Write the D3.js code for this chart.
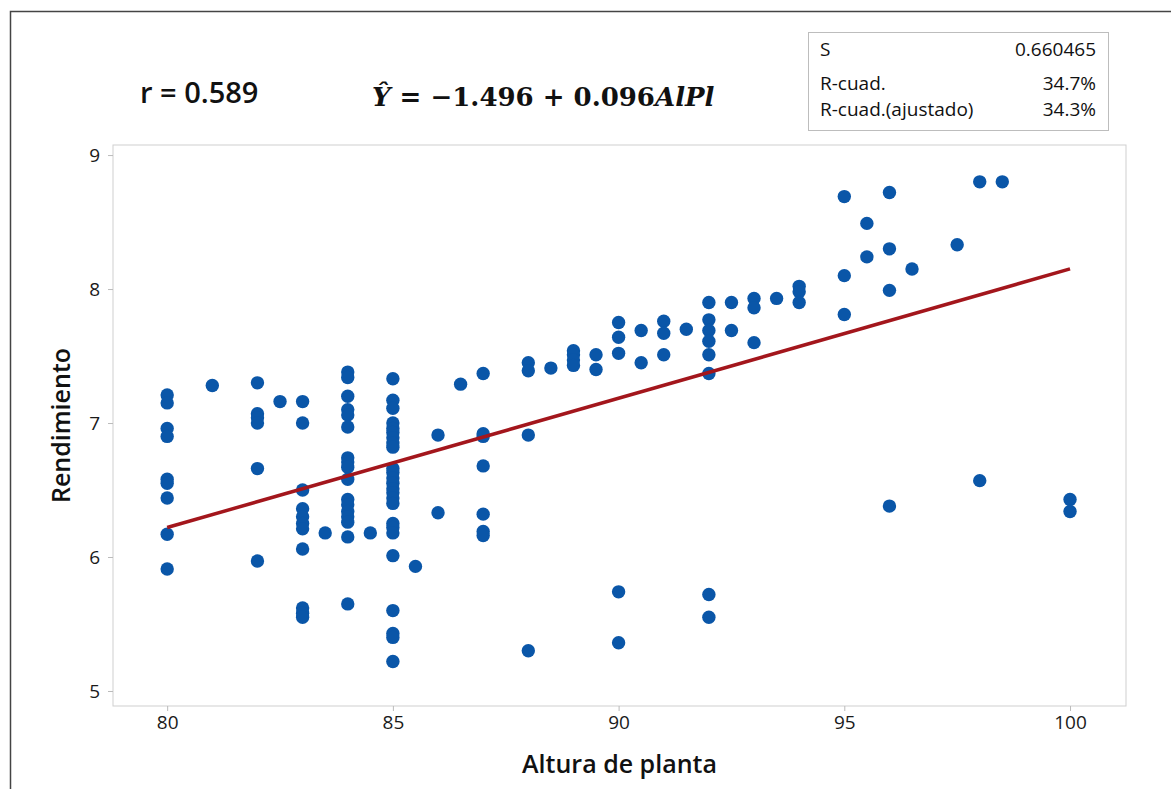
<html>
<head>
    <meta charset="UTF-8" />
    <title>Altura de planta vs Rendimiento</title>
    <script src="https://d3js.org/d3.v7.min.js"></script>
    <style>
        body { margin: 0; background: white; }
    </style>
</head>
<body>
    <svg id="canva" width="1171" height="789"></svg>
    <script>
        // alturas de planta (x) y rendimientos observados en cada altura
        const alturas = [80, 81, 82, 82.5, 83, 83.5, 84, 84.5, 85, 85.5, 86, 86.5, 87, 88, 88.5,
                         89, 89.5, 90, 90.5, 91, 91.5, 92, 92.5, 93, 93.5, 94, 95, 95.5, 96, 96.5,
                         97.5, 98, 98.5, 100];
        const rendimientos = [
            [7.21, 7.15, 6.96, 6.90, 6.58, 6.55, 6.44, 6.17, 5.91],
            [7.28],
            [7.30, 7.07, 7.04, 7.00, 6.66, 5.97],
            [7.16],
            [7.16, 7.00, 6.50, 6.36, 6.30, 6.25, 6.21, 6.06, 5.62, 5.58, 5.55],
            [6.18],
            [7.38, 7.34, 7.20, 7.10, 7.06, 6.97, 6.74, 6.71, 6.67, 6.58, 6.43, 6.39, 6.34, 6.30, 6.26, 6.15, 5.65],
            [6.18],
            [7.33, 7.17, 7.11, 7.00, 6.96, 6.93, 6.89, 6.85, 6.82, 6.66, 6.63, 6.59, 6.55, 6.51, 6.48,
             6.44, 6.40, 6.25, 6.22, 6.18, 6.01, 5.60, 5.43, 5.40, 5.22],
            [5.93],
            [6.91, 6.33],
            [7.29],
            [7.37, 6.92, 6.90, 6.68, 6.32, 6.19, 6.16],
            [7.45, 7.39, 6.91, 5.30],
            [7.41],
            [7.54, 7.51, 7.47, 7.43],
            [7.51, 7.40],
            [7.75, 7.64, 7.52, 5.74, 5.36],
            [7.69, 7.45],
            [7.76, 7.67, 7.51],
            [7.70],
            [7.90, 7.77, 7.69, 7.61, 7.51, 7.37, 5.72, 5.55],
            [7.90, 7.69],
            [7.93, 7.86, 7.60],
            [7.93],
            [8.02, 7.98, 7.90],
            [8.69, 8.10, 7.81],
            [8.49, 8.24],
            [8.72, 8.30, 7.99, 6.38],
            [8.15],
            [8.33],
            [8.80, 6.57],
            [8.80],
            [6.43, 6.34]
        ];

        // recta ajustada (extremos)
        const ajusteX = [80, 100];
        const ajusteY = [6.22, 8.15];

        const xTicks = [80, 85, 90, 95, 100];
        const yTicks = [5, 6, 7, 8, 9];

        const statsNames = ["S", "R-cuad.", "R-cuad.(ajustado)"];
        const statsValues = ["0.660465", "34.7%", "34.3%"];

        let canva = d3.select("svg#canva");
        const font = "'Open Sans', 'Noto Sans', sans-serif";

        const plot = {left: 113, right: 1126, top: 145, bottom: 706};

        const xScale = d3.scaleLinear().domain([78.8, 101.24]).range([plot.left, plot.right]);
        const yScale = d3.scaleLinear().domain([4.888, 9.075]).range([plot.bottom, plot.top]);

        // marco exterior
        canva.append("rect")
            .attr("x", 10.5).attr("y", 11.5)
            .attr("width", 1200).attr("height", 900)
            .attr("fill", "none")
            .attr("stroke", "#444")
            .attr("stroke-width", 1.5);

        // marco del grafico
        canva.append("rect")
            .attr("x", plot.left).attr("y", plot.top)
            .attr("width", plot.right - plot.left)
            .attr("height", plot.bottom - plot.top)
            .attr("fill", "none")
            .attr("stroke", "#cfcfcf")
            .attr("stroke-width", 1);

        // ejes
        let xAxis = canva.append("g")
            .attr("transform", `translate(0,${plot.bottom})`)
            .call(d3.axisBottom(xScale).tickValues(xTicks).tickSize(5).tickPadding(5));
        let yAxis = canva.append("g")
            .attr("transform", `translate(${plot.left},0)`)
            .call(d3.axisLeft(yScale).tickValues(yTicks).tickFormat(d3.format("d")).tickSize(5).tickPadding(8));

        [xAxis, yAxis].forEach( (ax) => {
            ax.select(".domain").remove();
            ax.selectAll(".tick line").attr("stroke", "#bbb");
            ax.selectAll(".tick text")
                .attr("font-family", font)
                .attr("font-size", "19px")
                .attr("fill", "#1a1a1a");
        });

        // puntos
        let puntos = [];
        alturas.forEach( (a, i) => {
            rendimientos[i].forEach( (r) => {
                puntos.push({x: a, y: r});
            });
        });

        canva.append("g").selectAll("circle")
            .data(puntos)
            .join("circle")
            .attr("cx", d => xScale(d.x))
            .attr("cy", d => yScale(d.y))
            .attr("r", 6.7)
            .attr("fill", "#0a56a8");

        // recta de regresion
        canva.append("line")
            .attr("x1", xScale(ajusteX[0]))
            .attr("y1", yScale(ajusteY[0]))
            .attr("x2", xScale(ajusteX[1]))
            .attr("y2", yScale(ajusteY[1]))
            .attr("stroke", "#a3161c")
            .attr("stroke-width", 3.5);

        // titulos de ejes
        canva.append("text")
            .attr("x", (plot.left + plot.right) / 2)
            .attr("y", 773)
            .attr("text-anchor", "middle")
            .attr("font-family", font)
            .attr("font-weight", 600)
            .attr("font-size", "25px")
            .attr("fill", "#111")
            .text("Altura de planta");

        canva.append("text")
            .attr("transform", `translate(70,${(plot.top + plot.bottom) / 2}) rotate(-90)`)
            .attr("text-anchor", "middle")
            .attr("font-family", font)
            .attr("font-weight", 600)
            .attr("font-size", "25px")
            .attr("fill", "#111")
            .text("Rendimiento");

        // r y ecuacion
        canva.append("text")
            .attr("x", 140)
            .attr("y", 103)
            .attr("font-family", font)
            .attr("font-weight", 600)
            .attr("font-size", "29px")
            .attr("fill", "#111")
            .text("r = 0.589");

        let eq = canva.append("text")
            .attr("x", 372)
            .attr("y", 106)
            .attr("font-family", "'DejaVu Serif', serif")
            .attr("font-weight", "bold")
            .attr("font-size", "26px")
            .attr("fill", "#111");
        eq.append("tspan").attr("font-style", "italic").text("Ŷ");
        eq.append("tspan").text(" =  −1.496 + 0.096");
        eq.append("tspan").attr("font-style", "italic").text("AlPl");

        // cuadro de estadisticos
        canva.append("rect")
            .attr("x", 808.5).attr("y", 32.5)
            .attr("width", 300).attr("height", 98)
            .attr("fill", "white")
            .attr("stroke", "#bdbdbd");

        const statsY = [56, 90, 116];
        statsNames.forEach( (s, i) => {
            canva.append("text")
                .attr("x", 820)
                .attr("y", statsY[i])
                .attr("font-family", font)
                .attr("font-size", "19px")
                .attr("fill", "#111")
                .text(s);
            canva.append("text")
                .attr("x", 1096)
                .attr("y", statsY[i])
                .attr("text-anchor", "end")
                .attr("font-family", font)
                .attr("font-size", "19px")
                .attr("fill", "#111")
                .text(statsValues[i]);
        });
    </script>
</body>
</html>
